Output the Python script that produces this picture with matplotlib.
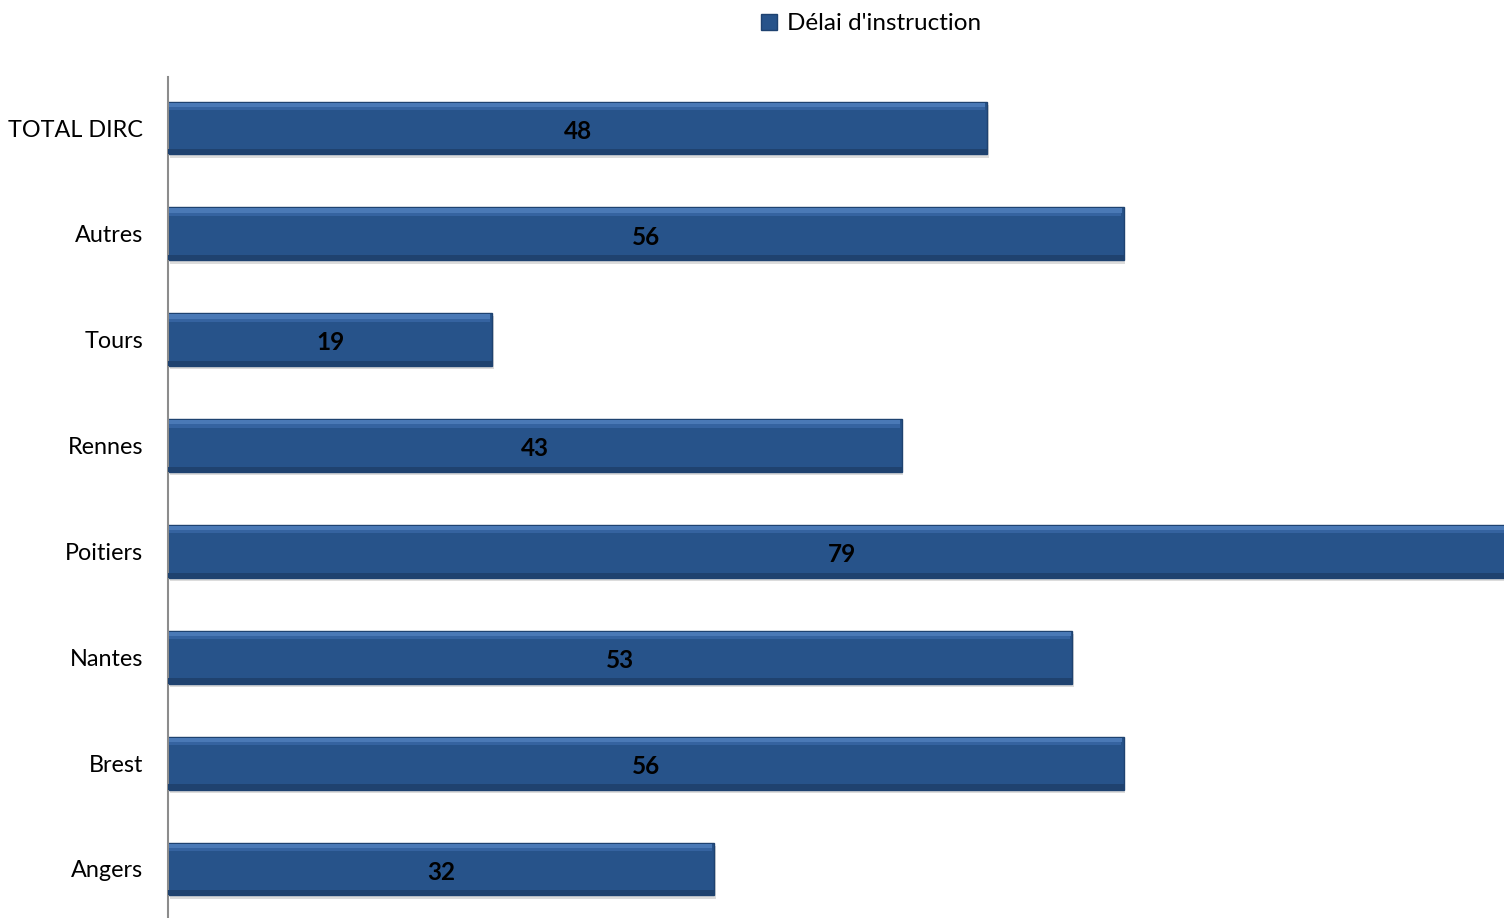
import matplotlib
matplotlib.use("Agg")
import matplotlib.pyplot as plt
from matplotlib.patches import Patch

categories = ["TOTAL DIRC", "Autres", "Tours", "Rennes", "Poitiers", "Nantes", "Brest", "Angers"]
values = [48, 56, 19, 43, 79, 53, 56, 32]
series_name = "Délai d'instruction"

plt.rcParams['font.family'] = ['Lato', 'DejaVu Sans']

fig = plt.figure(figsize=(15.04, 9.18), dpi=100)
ax = fig.add_axes([168/1504, 0.0, 1 - 168/1504, 1 - 77/918])

main = "#27538A"
y = list(range(len(categories)))
h = 0.5
# shadow
ax.barh([v + 0.03 for v in y], values, height=h, left=0.1, color="#dcdcdc", zorder=1)
ax.barh(y, values, height=h, color=main, edgecolor="#1e4270", linewidth=1.0, zorder=2)
# top highlight
ax.barh([v - h/2 + 0.03 for v in y], [x - 0.15 for x in values], height=0.04, left=0.05,
        color="#4a79b6", zorder=3, linewidth=0)
ax.barh([v - h/2 + 0.065 for v in y], [x - 0.2 for x in values], height=0.03, left=0.08,
        color="#3563a0", zorder=3, linewidth=0)
# bottom darker strip
ax.barh([v + h/2 - 0.025 for v in y], values, height=0.05, color="#1f426f", zorder=3, linewidth=0)

for yi, v in zip(y, values):
    ax.text(v / 2, yi + 0.03, str(v), ha="center", va="center", fontsize=17.5,
            fontweight="bold", color="black", zorder=4)

ax.set_xlim(0, 78.3)
ax.set_ylim(7.463, -0.482)
ax.set_yticks(y)
ax.set_yticklabels(categories, fontsize=16.8)
ax.tick_params(axis="y", length=0, pad=18)
ax.set_xticks([])
for s in ["top", "right", "bottom"]:
    ax.spines[s].set_visible(False)
ax.spines["left"].set_color("#8c8c8c")
ax.spines["left"].set_linewidth(1.5)

fig.legend(handles=[Patch(facecolor=main, edgecolor="#1e4270")], labels=[series_name],
           loc="center", bbox_to_anchor=(871/1504, 1 - 24/918), frameon=False,
           fontsize=17.5, handlelength=0.65, handleheight=0.65, handletextpad=0.4)

fig.savefig("out.png", dpi=100)
